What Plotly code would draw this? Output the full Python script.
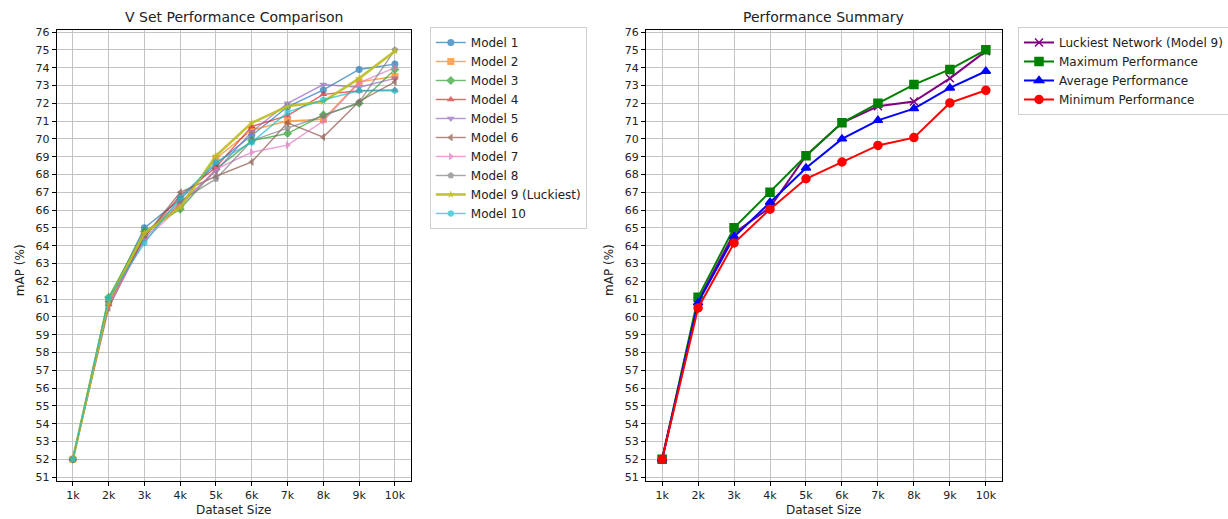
import plotly.graph_objects as go

sizes = [1, 2, 3, 4, 5, 6, 7, 8, 9, 10]
size_labels = ["1k", "2k", "3k", "4k", "5k", "6k", "7k", "8k", "9k", "10k"]

model_1 = [52.0, 60.9, 65.0, 66.6, 68.6, 70.2, 71.8, 72.75, 73.9, 74.2]
model_2 = [52.0, 60.8, 64.6, 66.3, 68.9, 70.5, 71.0, 71.1, 73.2, 73.5]
model_3 = [52.0, 61.1, 64.8, 66.05, 68.3, 69.9, 70.3, 71.35, 72.0, 73.9]
model_4 = [52.0, 60.7, 64.5, 66.8, 68.4, 70.7, 71.3, 72.5, 72.7, 72.75]
model_5 = [52.0, 60.8, 64.4, 66.4, 68.2, 70.4, 72.0, 73.05, 72.9, 73.4]
model_6 = [52.0, 60.5, 64.5, 67.0, 67.9, 68.7, 70.9, 70.1, 72.1, 73.2]
model_7 = [52.0, 60.7, 64.3, 66.2, 68.3, 69.25, 69.65, 71.0, 73.15, 74.0]
model_8 = [52.0, 60.9, 64.6, 66.5, 67.75, 69.9, 70.6, 71.3, 72.05, 75.0]
model_9 = [52.0, 60.9, 64.7, 66.15, 69.05, 70.9, 71.83, 72.1, 73.4, 74.93]
model_10 = [52.0, 61.05, 64.15, 66.7, 68.7, 69.8, 71.5, 72.2, 72.7, 72.7]

luckiest = [52.0, 60.9, 64.7, 66.15, 69.05, 70.9, 71.83, 72.1, 73.4, 74.93]
maximum = [52.0, 61.1, 65.0, 67.0, 69.05, 70.9, 72.0, 73.05, 73.9, 75.0]
average = [52.0, 60.8, 64.5, 66.44, 68.36, 70.0, 71.04, 71.7, 72.86, 73.8]
minimum = [52.0, 60.5, 64.15, 66.05, 67.76, 68.7, 69.63, 70.07, 72.02, 72.73]

model_names = ["Model 1", "Model 2", "Model 3", "Model 4", "Model 5", "Model 6",
               "Model 7", "Model 8", "Model 9 (Luckiest)", "Model 10"]
model_values = [model_1, model_2, model_3, model_4, model_5, model_6,
                model_7, model_8, model_9, model_10]
model_colors = ["#1f77b4", "#ff7f0e", "#2ca02c", "#d62728", "#9467bd",
                "#8c564b", "#e377c2", "#7f7f7f", "#bcbd22", "#17becf"]
model_symbols = ["circle", "square", "diamond", "triangle-up", "triangle-down",
                 "triangle-left", "triangle-right", "pentagon", "star", "hexagon"]

fig = go.Figure()

for i, (name, vals, col, sym) in enumerate(zip(model_names, model_values, model_colors, model_symbols)):
    lucky = i == 8
    fig.add_trace(go.Scatter(
        x=sizes, y=vals, name=name, mode="lines+markers",
        line=dict(color=col, width=2.6 if lucky else 1.4),
        marker=dict(symbol=sym, size=7 if not lucky else 6, color=col),
        opacity=0.9 if lucky else 0.7,
        xaxis="x", yaxis="y", legend="legend",
    ))

summary = [
    ("Luckiest Network (Model 9)", luckiest, "purple", "x-thin-open", 2),
    ("Maximum Performance", maximum, "green", "square", 2),
    ("Average Performance", average, "blue", "triangle-up", 2),
    ("Minimum Performance", minimum, "red", "circle", 2),
]
for name, vals, col, sym, w in summary:
    fig.add_trace(go.Scatter(
        x=sizes, y=vals, name=name, mode="lines+markers",
        line=dict(color=col, width=w),
        marker=dict(symbol=sym, size=8, color=col, line=dict(color=col, width=1.5)),
        xaxis="x2", yaxis="y2", legend="legend2",
    ))

font_family = "DejaVu Sans, sans-serif"
axis_common = dict(
    showline=True, linecolor="black", linewidth=1, mirror=True,
    ticks="outside", ticklen=4, tickcolor="black",
    showgrid=True, gridcolor="#c4c4c4", gridwidth=1,
    zeroline=False, tickfont=dict(size=11, color="#222"),
    automargin=False,
)
xaxis_common = dict(axis_common, range=[0.55, 10.45], tickvals=sizes, ticktext=size_labels)
yaxis_common = dict(axis_common, range=[50.78, 76.11], dtick=1, tick0=51)

legend_common = dict(
    bgcolor="rgba(255,255,255,0.9)", bordercolor="#d0d0d0", borderwidth=1,
    font=dict(size=12, color="#222"), xanchor="left", yanchor="top",
    tracegroupgap=0, itemwidth=30,
)

x1_dom = [0.0462, 0.3347]
x2_dom = [0.526, 0.816]
y_dom = [0.0732, 0.942]

def ann(text, x, y, size, angle=0):
    return dict(text=text, x=x, y=y, xref="paper", yref="paper", xanchor="center",
                yanchor="middle", showarrow=False, textangle=angle,
                font=dict(size=size, color="#222"))

fig.update_layout(
    width=1228, height=519,
    margin=dict(l=0, r=0, t=0, b=0, autoexpand=False),
    paper_bgcolor="white", plot_bgcolor="white",
    font=dict(family=font_family, color="#222"),
    showlegend=True,
    xaxis=dict(xaxis_common, domain=x1_dom, anchor="y"),
    yaxis=dict(yaxis_common, domain=y_dom, anchor="x"),
    xaxis2=dict(xaxis_common, domain=x2_dom, anchor="y2"),
    yaxis2=dict(yaxis_common, domain=y_dom, anchor="x2"),
    legend=dict(legend_common, x=0.350, y=0.948),
    legend2=dict(legend_common, x=0.829, y=0.948),
    annotations=[
        ann("V Set Performance Comparison", sum(x1_dom) / 2, 0.968, 14),
        ann("Performance Summary", sum(x2_dom) / 2, 0.968, 14),
        ann("Dataset Size", sum(x1_dom) / 2, 0.0175, 12),
        ann("Dataset Size", sum(x2_dom) / 2, 0.0175, 12),
        ann("mAP (%)", 0.0165, 0.48, 12, -90),
        ann("mAP (%)", 0.496, 0.48, 12, -90),
    ],
)

fig.write_html("out.html", config={"displayModeBar": False},
               post_script="document.body.style.margin='0';document.body.style.overflow='hidden';")
